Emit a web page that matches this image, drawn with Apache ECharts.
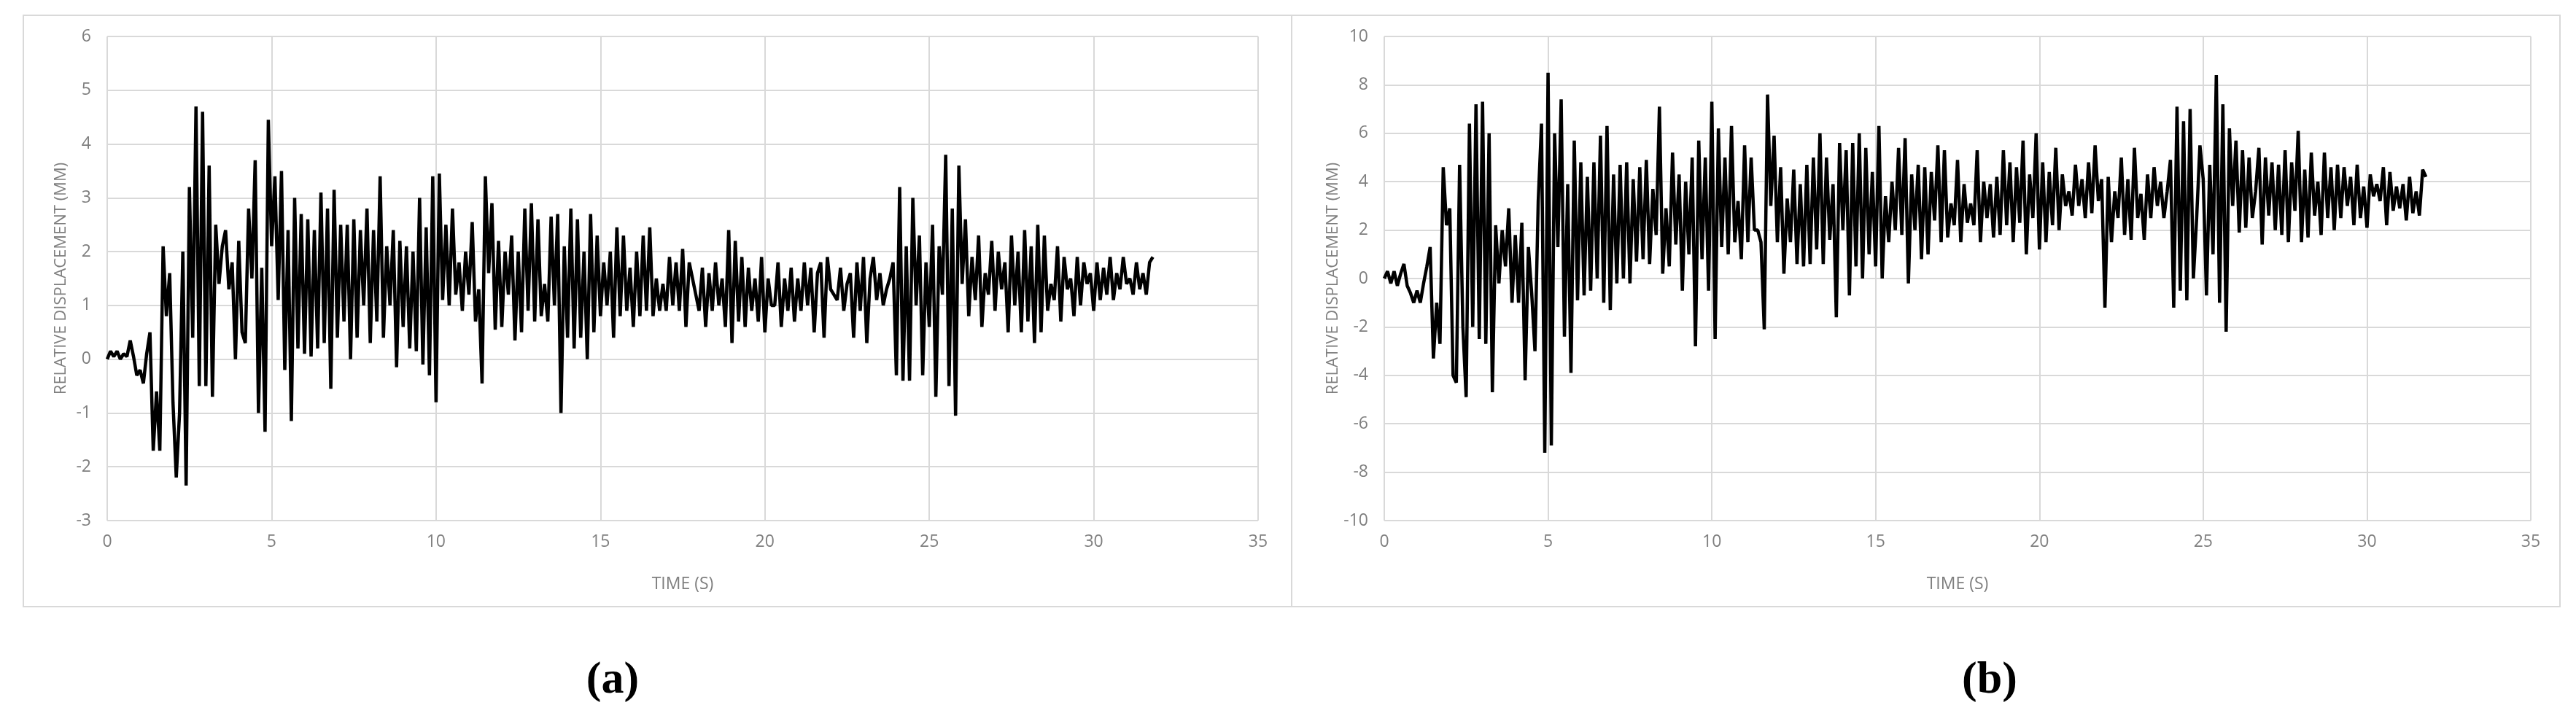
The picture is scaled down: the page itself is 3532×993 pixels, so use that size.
<!DOCTYPE html>
<html>
<head>
<meta charset="utf-8">
<script src="https://cdn.jsdelivr.net/npm/echarts@6/dist/echarts.min.js"></script>
<style>
html,body{margin:0;padding:0;background:#fff;}
#chart{width:3532px;height:993px;}
</style>
</head>
<body>
<div id="chart"></div>
<script>
// 采样间隔 0.1 s
var dt = 0.1;
var xTicks = [0, 5, 10, 15, 20, 25, 30, 35];
var yTicksA = [-3, -2, -1, 0, 1, 2, 3, 4, 5, 6];
var yTicksB = [-10, -8, -6, -4, -2, 0, 2, 4, 6, 8, 10];

var dispA = [
  0.0,0.15,0.05,0.15,0.0,0.1,0.05,0.35,0.05,-0.3,
  -0.2,-0.45,0.1,0.5,-1.7,-0.6,-1.7,2.1,0.8,1.6,
  -0.8,-2.2,-1.0,2.0,-2.35,3.2,0.4,4.7,-0.5,4.6,
  -0.5,3.6,-0.7,2.5,1.4,2.1,2.4,1.3,1.8,0.0,
  2.2,0.5,0.3,2.8,1.5,3.7,-1.0,1.7,-1.35,4.45,
  2.1,3.4,1.1,3.5,-0.2,2.4,-1.15,3.0,0.2,2.7,
  0.1,2.6,0.05,2.4,0.2,3.1,0.3,2.8,-0.55,3.15,
  0.4,2.5,0.7,2.5,0.0,2.6,0.4,2.4,1.0,2.8,
  0.3,2.4,0.7,3.4,0.4,2.1,1.0,2.4,-0.15,2.2,
  0.6,2.1,0.2,2.0,0.15,3.0,-0.1,2.45,-0.3,3.4,
  -0.8,3.45,1.1,2.5,1.0,2.8,1.2,1.8,0.9,2.0,
  1.2,2.55,0.7,1.3,-0.45,3.4,1.6,2.9,0.55,2.2,
  0.6,2.0,1.2,2.3,0.35,2.0,0.5,2.8,0.9,2.9,
  0.7,2.6,0.8,1.4,0.7,2.65,1.0,2.7,-1.0,2.1,
  0.4,2.8,0.2,2.6,0.4,2.0,0.0,2.7,0.5,2.3,
  0.8,1.8,1.0,2.0,0.4,2.45,0.8,2.3,0.9,1.7,
  0.6,2.0,0.8,2.3,0.9,2.45,0.8,1.5,0.9,1.4,
  0.9,1.9,1.0,1.8,0.9,2.05,0.6,1.8,1.5,1.2,
  0.9,1.7,0.6,1.6,0.9,1.8,1.0,1.5,0.6,2.4,
  0.3,2.2,0.7,1.9,0.6,1.7,0.9,1.5,0.7,1.9,
  0.5,1.5,1.0,1.0,1.8,0.6,1.5,0.9,1.7,0.7,
  1.5,0.9,1.8,1.0,1.7,0.5,1.6,1.8,0.4,1.9,
  1.3,1.2,1.1,1.7,0.9,1.4,1.6,0.4,1.8,0.9,
  1.9,0.3,1.5,1.9,1.1,1.6,1.0,1.3,1.5,1.8,
  -0.3,3.2,-0.4,2.1,-0.4,3.0,1.0,2.3,-0.3,1.8,
  0.6,2.5,-0.7,2.1,1.2,3.8,-0.5,2.8,-1.05,3.6,
  1.4,2.6,0.8,1.9,1.1,2.3,0.6,1.6,1.2,2.2,
  0.9,2.0,1.3,1.8,0.5,2.3,1.0,2.0,0.5,2.4,
  0.7,2.1,0.3,2.5,0.5,2.3,0.9,1.4,1.1,2.1,
  0.7,1.9,1.3,1.5,0.8,1.9,1.0,1.8,1.4,1.6,
  0.9,1.8,1.1,1.7,1.2,1.9,1.1,1.6,1.3,1.9,
  1.4,1.5,1.2,1.8,1.3,1.6,1.2,1.8,1.9
];

var dispB = [
  0.0,0.3,-0.2,0.3,-0.3,0.2,0.6,-0.3,-0.6,-1.0,
  -0.5,-1.0,-0.2,0.5,1.3,-3.3,-1.0,-2.7,4.6,2.2,
  2.9,-4.0,-4.3,4.7,-2.0,-4.9,6.4,-2.0,7.2,-2.5,
  7.3,-2.7,6.0,-4.7,2.2,-0.2,2.0,0.5,2.9,-1.0,
  1.8,-1.0,2.3,-4.2,1.3,-0.6,-3.0,3.2,6.4,-7.2,
  8.5,-6.9,6.0,1.3,7.4,-2.4,3.9,-3.9,5.7,-0.9,
  4.8,-0.7,4.2,-0.5,4.8,0.0,5.9,-1.0,6.3,-1.3,
  4.3,-0.2,4.7,0.0,4.8,-0.2,4.1,0.7,4.6,0.8,
  4.9,0.6,3.7,1.8,7.1,0.2,2.9,0.5,5.2,1.4,
  4.3,-0.5,4.0,1.0,5.0,-2.8,5.7,0.8,5.0,-0.5,
  7.3,-2.5,6.2,1.3,5.0,1.0,6.3,1.5,3.2,0.8,
  5.5,1.5,5.0,2.0,2.0,1.5,-2.1,7.6,3.0,5.9,
  1.5,4.6,0.2,3.3,1.5,4.5,0.6,3.9,0.5,4.7,
  0.6,5.0,1.2,6.0,0.6,5.0,1.6,3.9,-1.6,5.6,
  2.0,5.3,-0.7,5.6,0.5,6.0,0.0,5.4,1.0,4.4,
  0.5,6.3,0.0,3.4,1.5,4.0,2.0,5.4,1.8,5.8,
  -0.2,4.3,2.0,4.7,0.8,4.6,1.0,4.4,2.4,5.5,
  1.5,5.3,1.7,3.1,2.2,4.9,1.5,3.9,2.3,3.1,
  2.2,5.3,1.5,4.0,2.5,3.9,1.7,4.2,1.8,5.3,
  2.2,4.8,1.5,4.6,2.3,5.7,1.0,4.3,2.5,6.0,
  1.2,4.8,1.5,4.4,2.2,5.4,2.0,4.3,3.0,3.6,
  2.6,4.7,3.0,4.1,2.5,4.8,2.7,5.5,3.2,4.1,
  -1.2,4.2,1.5,3.6,2.5,5.0,1.8,4.1,1.6,5.4,
  2.5,3.5,1.6,4.3,2.5,4.6,3.0,4.0,2.5,3.6,
  4.9,-1.2,7.1,-0.5,6.5,-0.9,7.0,0.0,2.5,5.5,
  4.1,-0.7,4.7,1.0,8.4,-1.0,7.2,-2.2,6.2,3.0,
  5.7,1.9,5.3,2.1,5.0,2.5,3.6,5.4,1.4,5.0,
  2.6,4.8,2.0,4.7,1.8,5.3,1.5,4.8,2.8,6.1,
  1.5,4.5,1.7,5.2,2.6,4.0,1.8,5.2,2.5,4.6,
  2.0,4.7,2.5,4.6,3.0,4.2,2.2,4.7,2.5,3.8,
  2.1,4.3,3.4,3.9,3.2,4.6,2.2,4.4,2.8,3.8,
  2.9,3.9,2.4,4.2,2.7,3.6,2.6,4.5,4.2
];

function toPairs(arr){
	return arr.map(function(v,i){ return [+(i*dt).toFixed(2), v]; });
}

var grey = '#7f7f7f';
var gridCol = '#d9d9d9';

function xAxisOf(idx){
	return {
		gridIndex: idx, type: 'value', min: xTicks[0], max: xTicks[xTicks.length-1], interval: 5,
		name: 'TIME (S)', nameLocation: 'middle', nameGap: 76,
		nameTextStyle: {color: grey, fontSize: 23, fontFamily: 'Open Sans'},
		axisLabel: {color: grey, fontSize: 23, fontFamily: 'Open Sans', margin: 18},
		axisLine: {show: false}, axisTick: {show: false},
		splitLine: {show: true, lineStyle: {color: gridCol, width: 2}}
	};
}
function yAxisOf(idx, ticks, interval){
	return {
		gridIndex: idx, type: 'value', min: ticks[0], max: ticks[ticks.length-1], interval: interval,
		name: 'RELATIVE DISPLACEMENT (MM)', nameLocation: 'middle', nameGap: 52,
		nameTextStyle: {color: grey, fontSize: 22, fontFamily: 'Open Sans'},
		axisLabel: {color: grey, fontSize: 23, fontFamily: 'Open Sans', margin: 22},
		axisLine: {show: false}, axisTick: {show: false},
		splitLine: {show: true, lineStyle: {color: gridCol, width: 2}}
	};
}

var myChart = echarts.init(document.getElementById('chart'));
var option = {
	animation: false,
	backgroundColor: '#fff',
	graphic: [
		{type: 'rect', shape: {x: 32, y: 21, width: 1739, height: 811}, style: {fill: 'none', stroke: gridCol, lineWidth: 2}},
		{type: 'rect', shape: {x: 1771, y: 21, width: 1739, height: 811}, style: {fill: 'none', stroke: gridCol, lineWidth: 2}},
		{type: 'text', x: 840, y: 934, style: {text: '(a)', font: 'bold 62px "Liberation Serif"', fill: '#000', textAlign: 'center', textVerticalAlign: 'middle'}},
		{type: 'text', x: 2728, y: 934, style: {text: '(b)', font: 'bold 62px "Liberation Serif"', fill: '#000', textAlign: 'center', textVerticalAlign: 'middle'}}
	],
	grid: [
		{left: 147, top: 50, width: 1578, height: 664},
		{left: 1898, top: 50, width: 1572, height: 664}
	],
	xAxis: [xAxisOf(0), xAxisOf(1)],
	yAxis: [yAxisOf(0, yTicksA, 1), yAxisOf(1, yTicksB, 2)],
	series: [{
		type: 'line', xAxisIndex: 0, yAxisIndex: 0, showSymbol: false,
		lineStyle: {color: '#000', width: 4.5}, data: toPairs(dispA)
	},{
		type: 'line', xAxisIndex: 1, yAxisIndex: 1, showSymbol: false,
		lineStyle: {color: '#000', width: 4.5}, data: toPairs(dispB)
	}]
};
myChart.setOption(option);
</script>
</body>
</html>
